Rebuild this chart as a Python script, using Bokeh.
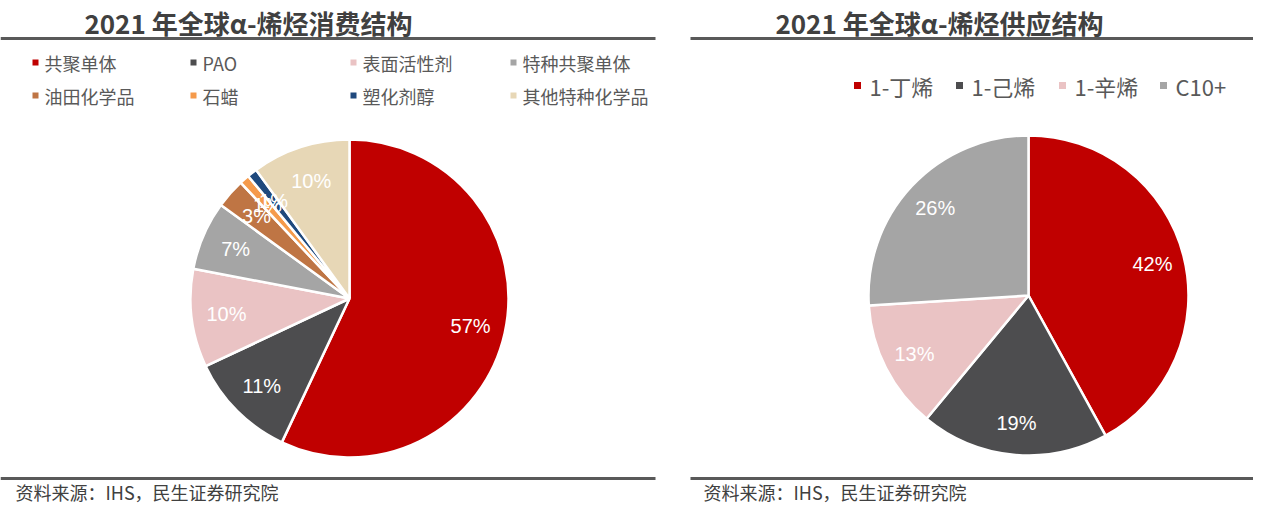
import math
from bokeh.plotting import figure
from bokeh.models import Range1d, ColumnDataSource
from bokeh.core.properties import value
from bokeh.embed import file_html
from bokeh.resources import INLINE

# ---------------- data ----------------
left_title = "2021 年全球α-烯烃消费结构"
left_cats = ["共聚单体", "PAO", "表面活性剂", "特种共聚单体",
             "油田化学品", "石蜡", "塑化剂醇", "其他特种化学品"]
left_vals = [57, 11, 10, 7, 3, 1, 1, 10]
left_colors = ["#C00000", "#4D4D4F", "#EAC3C4", "#A5A5A5",
               "#BF7544", "#F59A4B", "#1F497D", "#E7D7B6"]

right_title = "2021 年全球α-烯烃供应结构"
right_cats = ["1-丁烯", "1-己烯", "1-辛烯", "C10+"]
right_vals = [42, 19, 13, 26]
right_colors = ["#C00000", "#4D4D4F", "#EAC3C4", "#A5A5A5"]

source_text = "资料来源：IHS，民生证券研究院"

CJK = value("Noto Sans CJK SC")
W, H = 1253, 506


def Y(img_y):
    # convert screenshot y (top-down) to data y (bottom-up)
    return H - img_y


p = figure(width=W, height=H, output_backend="svg", toolbar_location=None,
           x_range=Range1d(0, W), y_range=Range1d(0, H),
           min_border=0, outline_line_color=None)
p.axis.visible = False
p.grid.visible = False
p.background_fill_color = "white"
p.border_fill_color = "white"


def pie(cx, cy, r, vals, colors, lab_frac, lab_size):
    total = float(sum(vals))
    starts, ends, lx, ly, labs = [], [], [], [], []
    cum = 0.0
    for v in vals:
        a0 = math.pi / 2 - 2 * math.pi * (cum + v) / total
        a1 = math.pi / 2 - 2 * math.pi * cum / total
        starts.append(a0)
        ends.append(a1)
        mid = (a0 + a1) / 2
        lx.append(cx + lab_frac * r * math.cos(mid))
        ly.append(Y(cy) + lab_frac * r * math.sin(mid))
        labs.append(f"{v}%")
        cum += v
    src = ColumnDataSource(dict(s=starts, e=ends, c=colors,
                                x=[cx] * len(vals), y=[Y(cy)] * len(vals)))
    p.wedge(x="x", y="y", radius=r, start_angle="s", end_angle="e",
            fill_color="c", line_color="white", line_width=2.5, source=src)
    p.text(x=lx, y=ly, text=labs, text_color="white", text_font=value("Liberation Sans"),
           text_font_size=lab_size, text_align="center", text_baseline="middle")


# ---------------- left chart ----------------
p.text(x=[248], y=[Y(22)], text=[left_title], text_font=CJK, text_font_style="bold",
       text_font_size="26px", text_color="#404040", text_align="center",
       text_baseline="middle")
p.line(x=[0, 655], y=[Y(38), Y(38)], line_color="#595959", line_width=3)

col_x = [35, 193, 353, 513]
row_y = [62, 95]
mx, my, tx, ty = [], [], [], []
for i, name in enumerate(left_cats):
    cx = col_x[i % 4]
    cy = row_y[i // 4]
    mx.append(cx)
    my.append(Y(cy))
    tx.append(cx + 9)
    ty.append(Y(cy))
p.rect(x=mx, y=my, width=6, height=6, fill_color=left_colors, line_color=None)
p.text(x=tx, y=ty, text=left_cats, text_font=CJK, text_font_size="18px",
       text_color="#595959", text_baseline="middle")

pie(349, 298, 159, left_vals, left_colors, 0.78, "20px")

p.line(x=[0, 655], y=[Y(478), Y(478)], line_color="#595959", line_width=3)
p.text(x=[15], y=[Y(491)], text=[source_text], text_font=CJK, text_font_size="18px",
       text_color="#404040", text_baseline="middle")

# ---------------- right chart ----------------
p.text(x=[939], y=[Y(22)], text=[right_title], text_font=CJK, text_font_style="bold",
       text_font_size="26px", text_color="#404040", text_align="center",
       text_baseline="middle")
p.line(x=[690, W], y=[Y(38), Y(38)], line_color="#595959", line_width=3)

r_mx = [857, 959, 1062, 1163]
p.rect(x=r_mx, y=[Y(85)] * 4, width=7, height=7, fill_color=right_colors, line_color=None)
p.text(x=[m + 12 for m in r_mx], y=[Y(85)] * 4, text=right_cats, text_font=CJK,
       text_font_size="22px", text_color="#595959", text_baseline="middle")

pie(1028, 295, 160, right_vals, right_colors, 0.8, "20px")

p.line(x=[690, W], y=[Y(478), Y(478)], line_color="#595959", line_width=3)
p.text(x=[703], y=[Y(491)], text=[source_text], text_font=CJK, text_font_size="18px",
       text_color="#404040", text_baseline="middle")

open("out.html", "w").write(file_html(p, INLINE))
